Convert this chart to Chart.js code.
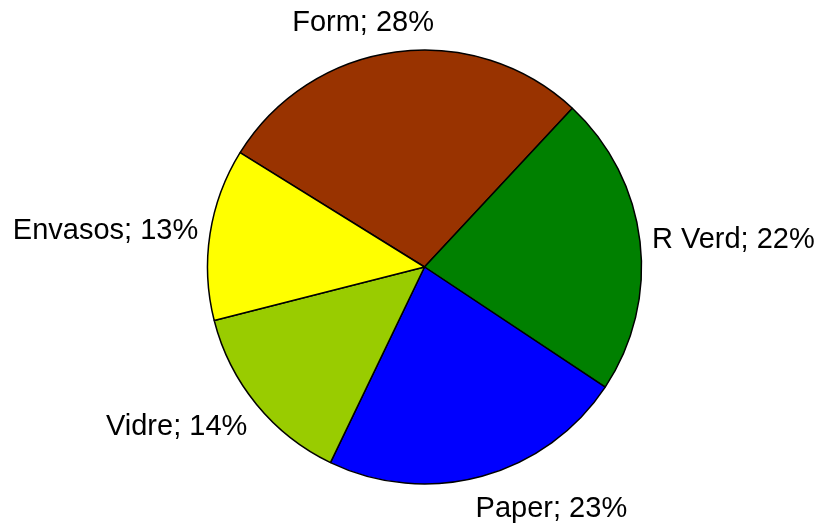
<!DOCTYPE html>
<html>
<head>
<meta charset="utf-8">
<script src="https://cdn.jsdelivr.net/npm/chart.js@4/dist/chart.umd.min.js"></script>
<style>
  html, body { margin: 0; padding: 0; background: #ffffff; }
  #wrap { width: 820px; height: 529px; position: relative; }
</style>
</head>
<body>
<div id="wrap"><canvas id="c" width="820" height="529"></canvas></div>
<script>
const categories = ["Form", "R Verd", "Paper", "Vidre", "Envasos"];
const values = [28.1, 22.4, 22.8, 13.9, 12.8];
const sliceColors = ["#993300", "#008000", "#0000FF", "#99CC00", "#FFFF00"];

const total = values.reduce((a, b) => a + b, 0);

const outsideLabels = {
  id: 'outsideLabels',
  afterDatasetsDraw(chart) {
    const ctx = chart.ctx;
    const meta = chart.getDatasetMeta(0);
    const fontSize = 29;
    ctx.save();
    ctx.font = fontSize + 'px "Liberation Sans", Arial, sans-serif';
    ctx.fillStyle = '#000000';
    ctx.textBaseline = 'alphabetic';
    ctx.textAlign = 'center';
    const capH = fontSize * 0.716;
    meta.data.forEach((arc, i) => {
      const p = arc.getProps(['x', 'y', 'startAngle', 'endAngle', 'outerRadius'], true);
      const mid = (p.startAngle + p.endAngle) / 2;
      const ux = Math.cos(mid), uy = Math.sin(mid);
      const r = p.outerRadius + 12;
      const ax = p.x + r * ux, ay = p.y + r * uy;
      const pct = Math.round(values[i] / total * 100);
      const text = categories[i] + '; ' + pct + '%';
      const w = ctx.measureText(text).width;
      const f = Math.max(-1, Math.min(1, ux * 3.3));
      const cx = ax + f * w / 2;
      const cy = ay + uy * 20;
      ctx.fillText(text, cx, cy + capH / 2);
    });
    ctx.restore();
  }
};

new Chart(document.getElementById('c'), {
  type: 'pie',
  data: {
    labels: categories,
    datasets: [{
      data: values,
      backgroundColor: sliceColors,
      borderColor: '#000000',
      borderWidth: 1.5,
      radius: 217
    }]
  },
  options: {
    responsive: false,
    animation: false,
    rotation: -58.2,
    layout: { padding: { left: 29, right: 0, top: 5, bottom: 0 } },
    plugins: {
      legend: { display: false },
      tooltip: { enabled: false }
    }
  },
  plugins: [outsideLabels]
});
</script>
</body>
</html>
